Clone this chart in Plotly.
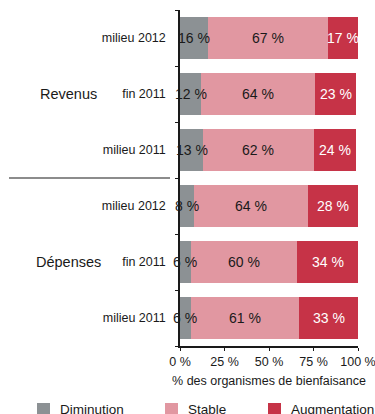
import plotly.graph_objects as go

# Survey of charities: share reporting a decrease / stable / increase
groups = ["Revenus", "Revenus", "Revenus", "Dépenses", "Dépenses", "Dépenses"]
periods = ["milieu 2012", "fin 2011", "milieu 2011", "milieu 2012", "fin 2011", "milieu 2011"]
diminution = [16, 12, 13, 8, 6, 6]
stable = [67, 64, 62, 64, 60, 61]
augmentation = [17, 23, 24, 28, 34, 33]

series_names = ["Diminution", "Stable", "Augmentation"]
colors = ["#8c9194", "#e197a1", "#c63347"]
text_colors = ["#1a1a1a", "#1a1a1a", "#ffffff"]

x_ticks = [0, 25, 50, 75, 100]
x_tick_labels = ["0 %", "25 %", "50 %", "75 %", "100 %"]

FONT = "Liberation Sans, Arial, sans-serif"

# plot-area geometry in pixels
W, H = 375, 414
ML, MR, MT, MB = 180, 17, 10, 68
PW, PH = W - ML - MR, H - MT - MB


def px_x(px):
    return (px - ML) / PW


def px_y(py):
    return (H - MB - py) / PH


# unique category keys, top row first
keys = [f"{g}|{p}" for g, p in zip(groups, periods)]
all_series = [diminution, stable, augmentation]

fig = go.Figure()
for name, vals, col in zip(series_names, all_series, colors):
    fig.add_trace(go.Bar(
        name=name,
        y=keys,
        x=vals,
        orientation="h",
        marker=dict(color=col, line=dict(width=0)),
        hoverinfo="skip",
        showlegend=False,
    ))

# value labels centred on each segment (allowed to spill past narrow ones)
starts = [0] * len(keys)
for vals, tcol in zip(all_series, text_colors):
    for i, v in enumerate(vals):
        fig.add_annotation(
            x=starts[i] + v / 2, y=keys[i], xref="x", yref="y",
            text=f"{v} %", showarrow=False, xanchor="center",
            font=dict(size=14, family=FONT, color=tcol),
        )
        starts[i] += v

fig.update_layout(
    barmode="stack",
    bargap=0.25,
    width=W,
    height=H,
    margin=dict(l=ML, r=MR, t=MT, b=MB, autoexpand=False),
    paper_bgcolor="white",
    plot_bgcolor="white",
    font=dict(family=FONT, color="#1a1a1a", size=12),
    showlegend=False,
)

fig.update_xaxes(
    range=[0, 100],
    tickvals=x_ticks,
    ticktext=x_tick_labels,
    showgrid=False,
    zeroline=False,
    showline=True,
    linecolor="#1a1a1a",
    linewidth=1.5,
    ticks="outside",
    ticklen=3,
    tickcolor="#1a1a1a",
    tickfont=dict(size=12.5),
    ticklabeloverflow="allow",
    automargin=False,
    title=dict(text="% des organismes de bienfaisance", font=dict(size=12.5), standoff=8),
    fixedrange=True,
)

fig.update_yaxes(
    type="category",
    categoryorder="array",
    categoryarray=keys,
    autorange="reversed",
    tickvals=keys,
    ticktext=periods,
    tickfont=dict(size=12.5),
    showgrid=False,
    showline=True,
    linecolor="#1a1a1a",
    linewidth=1.5,
    ticks="outside",
    tickson="boundaries",
    ticklen=3,
    tickcolor="#1a1a1a",
    ticklabelstandoff=10,
    automargin=False,
    fixedrange=True,
)

# group labels beside the middle row of each block
for g_name in ["Revenus", "Dépenses"]:
    idx = [i for i, g in enumerate(groups) if g == g_name]
    mid = keys[idx[len(idx) // 2]]
    fig.add_annotation(
        text=g_name, xref="paper", yref="y", x=px_x(68), y=mid,
        showarrow=False, xanchor="center", font=dict(size=14.5, family=FONT),
    )

# separator between the two blocks
fig.add_shape(
    type="line", xref="paper", yref="y",
    x0=px_x(9), x1=px_x(170), y0=2.5, y1=2.5,
    line=dict(color="#1a1a1a", width=1.2),
)

# legend row along the bottom edge
legend_icon_x = [37, 165, 268]
for name, col, lx in zip(series_names, colors, legend_icon_x):
    fig.add_shape(
        type="rect", xref="paper", yref="paper",
        x0=px_x(lx), x1=px_x(lx + 13), y0=px_y(403), y1=px_y(416),
        fillcolor=col, line=dict(width=0),
    )
    fig.add_annotation(
        text=name, xref="paper", yref="paper",
        x=px_x(lx + 21), y=px_y(409.5), xanchor="left", yanchor="middle",
        showarrow=False, font=dict(size=13.5, family=FONT, color="#1a1a1a"),
    )

fig.write_html("out.html")
